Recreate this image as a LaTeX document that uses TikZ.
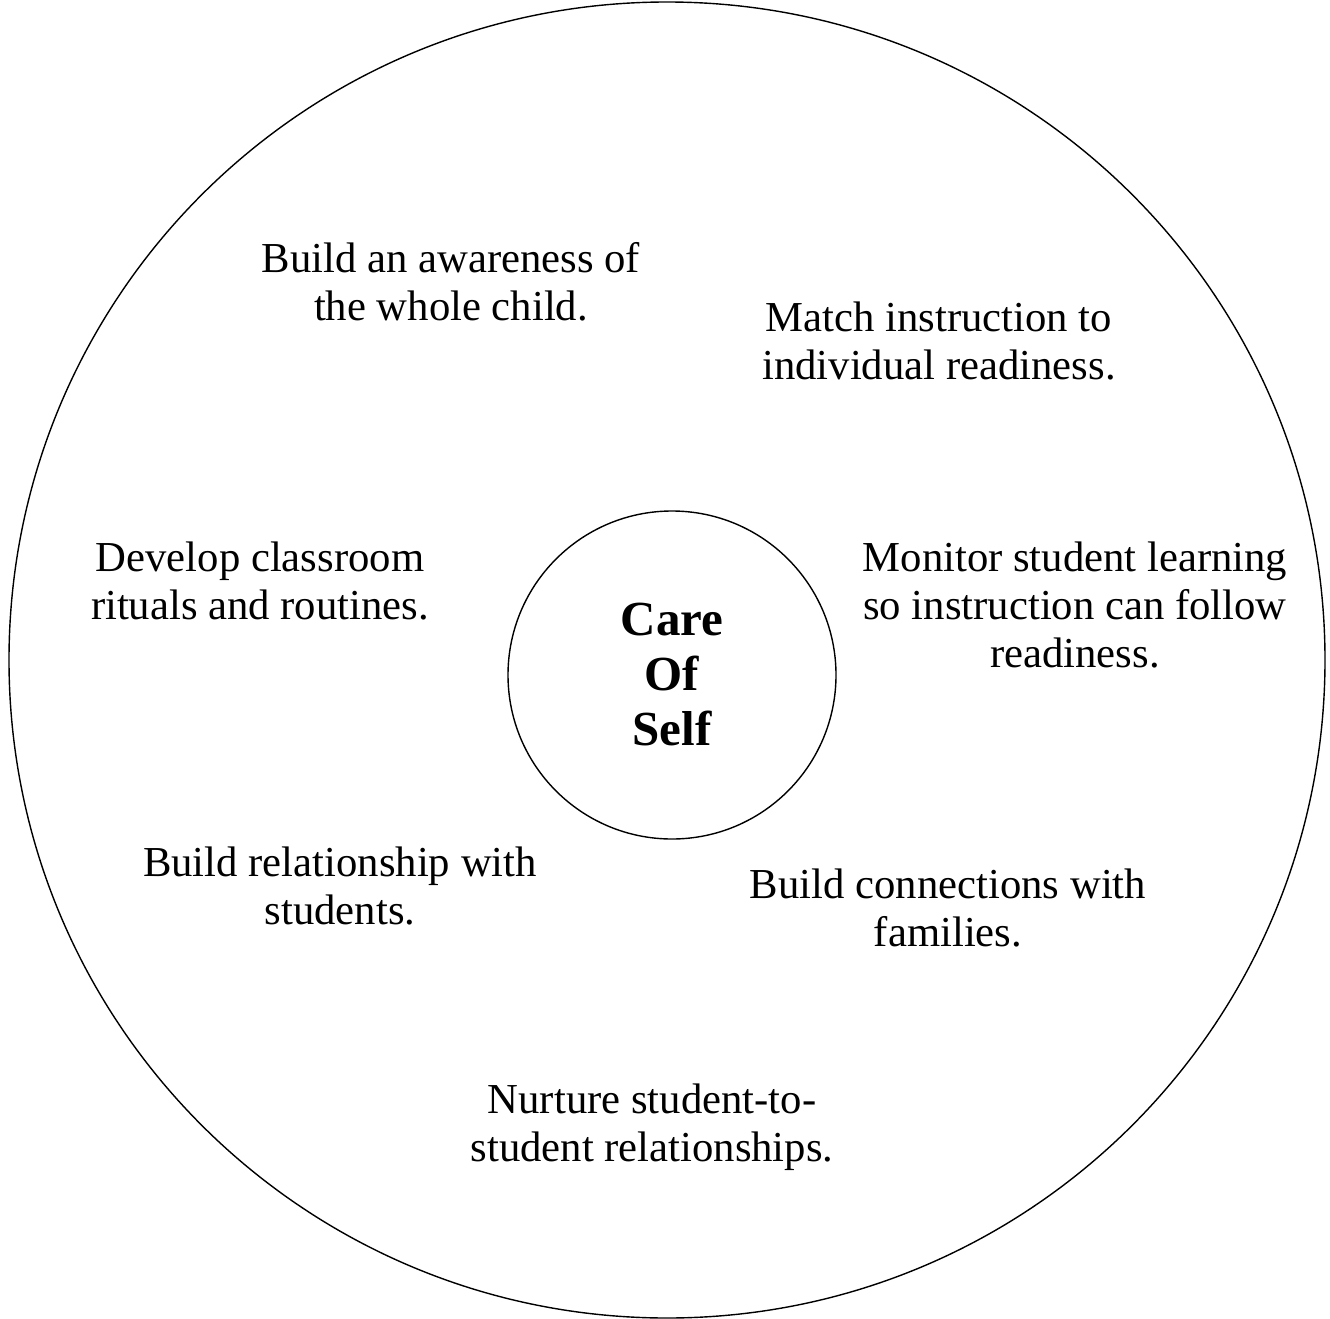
\documentclass[tikz,border=0pt]{standalone}
\usepackage{fontspec}
\setmainfont{Liberation Serif}
\begin{document}
\begin{tikzpicture}[x=1pt,y=-1pt,
  lbl/.style={align=center,font=\fontsize{42.7}{48}\selectfont,inner sep=0pt},
  ring/.style={draw=black,line width=1.4pt}]
\useasboundingbox (0,0) rectangle (1330,1319);
\node[ring,circle,minimum size=1316pt,inner sep=0pt] (outer) at (667,660) {};
\node[ring,circle,minimum size=328pt,inner sep=0pt,align=center,
  font=\bfseries\fontsize{49}{55}\selectfont] (core) at (672,675) {Care\\Of\\Self};
\node[lbl] (t1) at (451,282) {Build an awareness of\\the whole child.};
\node[lbl] (t2) at (939,341) {Match instruction to\\individual readiness.};
\node[lbl] (t3) at (260,581) {Develop classroom\\rituals and routines.};
\node[lbl] (t4) at (1075,605) {Monitor student learning\\so instruction can follow\\readiness.};
\node[lbl] (t5) at (340,886) {Build relationship with\\students.};
\node[lbl] (t6) at (948,908) {Build connections with\\families.};
\node[lbl] (t7) at (652,1127) {Nurture student-to-\\student relationships.};
\end{tikzpicture}
\end{document}
